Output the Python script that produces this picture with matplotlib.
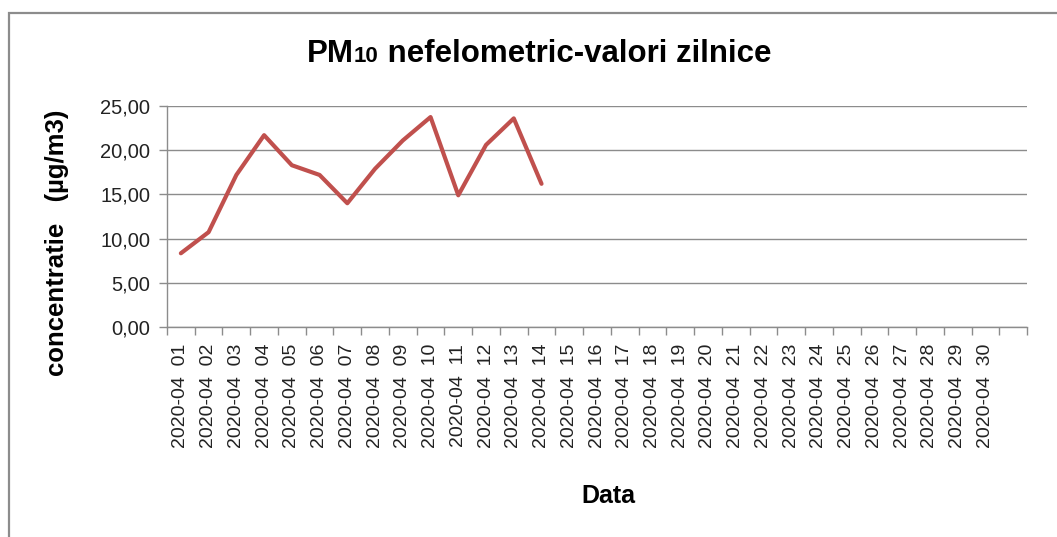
import matplotlib
matplotlib.use("Agg")
import matplotlib.pyplot as plt
from matplotlib.patches import Rectangle
import numpy as np

plt.rcParams['font.family'] = ['Liberation Sans', 'DejaVu Sans']

days = [f"2020-04  {d:02d}" for d in range(1, 31)] + [""]
values = [8.34, 10.73, 17.2, 21.7, 18.3, 17.2, 14.0, 17.9, 21.1, 23.75,
          14.9, 20.6, 23.6, 16.2]
yticks = [0, 5, 10, 15, 20, 25]
ytick_labels = ["0,00", "5,00", "10,00", "15,00", "20,00", "25,00"]

W, H = 1057, 537
fig = plt.figure(figsize=(W / 100, H / 100), dpi=100)
fig.patch.set_facecolor("white")

# outer chart frame
fig.add_artist(Rectangle((8.5 / W, -0.2), 1.5, 1.2 - 12.5 / H,
                         transform=fig.transFigure, fill=False,
                         edgecolor="#8c8c8c", linewidth=1.6))

ax = fig.add_axes([167 / W, 1 - 327 / H, (1027 - 167) / W, (327 - 106) / H])
x = np.arange(len(values))
ax.plot(x, values, color="#C0504D", linewidth=3.0, solid_joinstyle="round",
        solid_capstyle="round")

ax.set_xlim(-0.5, len(days) - 0.5)
ax.set_ylim(0, 25)
ax.set_yticks(yticks)
ax.set_yticklabels(ytick_labels, fontsize=14.5, color="#222222")
ax.yaxis.grid(True, color="#8c8c8c", linewidth=1.0)
ax.set_axisbelow(True)

ax.set_xticks(np.arange(len(days)))
ax.set_xticklabels(days, rotation=90, fontsize=14, color="#222222", va="top")
ax.tick_params(axis="x", length=0, pad=12)
ax.set_xticks(np.arange(len(days) + 1) - 0.5, minor=True)
ax.tick_params(axis="x", which="minor", length=6, color="#8c8c8c", width=1)
ax.tick_params(axis="y", length=6, color="#8c8c8c", width=1, pad=6)

for s in ["top", "right"]:
    ax.spines[s].set_visible(False)
for s in ["left", "bottom"]:
    ax.spines[s].set_color("#8c8c8c")
    ax.spines[s].set_linewidth(1.0)

# title built from pieces: "PM" + small "10" + rest, same baseline
parts = [("PM", 22.5), ("10", 16), (" nefelometric-valori zilnice", 22.5)]
fig.canvas.draw()
renderer = fig.canvas.get_renderer()
texts = []
for s, fs in parts:
    t = fig.text(0, 0, s, fontsize=fs, fontweight="bold", va="baseline", ha="left")
    texts.append(t)
widths = [t.get_window_extent(renderer).width for t in texts]
total = sum(widths)
xpos = 539 - total / 2
base_y = 1 - 62 / H
for t, w in zip(texts, widths):
    t.set_position((xpos / W, base_y))
    xpos += w

fig.text(57 / W, 1 - 243 / H, "concentratie   (µg/m3)", rotation=90,
         ha="center", va="center", fontsize=18.5, fontweight="bold")
fig.text(608 / W, 1 - 496 / H, "Data", ha="center", va="center",
         fontsize=18, fontweight="bold")

fig.savefig("out.png", dpi=100)
